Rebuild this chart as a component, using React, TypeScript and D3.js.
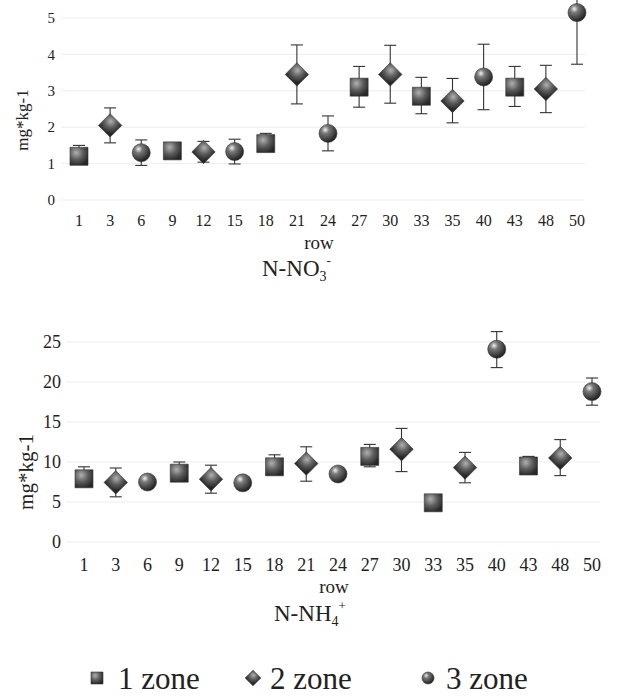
import { useRef, useEffect } from 'react';
import * as d3 from 'd3';

const rows = ['1', '3', '6', '9', '12', '15', '18', '21', '24', '27', '30', '33', '35', '40', '43', '48', '50'];
const zones = [1, 2, 3, 1, 2, 3, 1, 2, 3, 1, 2, 1, 2, 3, 1, 2, 3];

const no3Mean = [1.2, 2.05, 1.3, 1.35, 1.32, 1.33, 1.55, 3.45, 1.83, 3.1, 3.45, 2.85, 2.72, 3.38, 3.1, 3.05, 5.15];
const no3Up = [0.3, 0.48, 0.35, 0.22, 0.29, 0.34, 0.28, 0.81, 0.48, 0.57, 0.8, 0.52, 0.62, 0.9, 0.57, 0.65, 1.42];
const no3Down = [0.1, 0.48, 0.35, 0.1, 0.28, 0.34, 0.1, 0.81, 0.48, 0.55, 0.79, 0.48, 0.6, 0.9, 0.53, 0.65, 1.42];
const no3Ticks = [0, 1, 2, 3, 4, 5];

const nh4Mean = [7.9, 7.45, 7.5, 8.6, 7.85, 7.4, 9.4, 9.8, 8.5, 10.7, 11.6, 4.9, 9.3, 24.1, 9.5, 10.5, 18.8];
const nh4Up = [1.5, 1.8, 0.3, 1.4, 1.75, 0.3, 1.5, 2.1, 0.8, 1.5, 2.6, 0.3, 1.9, 2.2, 1.2, 2.3, 1.7];
const nh4Down = [0.3, 1.8, 0.3, 0.3, 1.75, 0.3, 0.3, 2.2, 0.3, 1.3, 2.8, 0.3, 1.9, 2.3, 0.3, 2.2, 1.7];
const nh4Ticks = [0, 5, 10, 15, 20, 25];

const legendLabels = ['1 zone', '2 zone', '3 zone'];

const FONT = '"Liberation Serif", "DejaVu Serif", serif';
const INK = '#222';

// one marker for a zone, centred on (0,0)
function marker(g, zone, s) {
  if (zone === 1) {
    g.append('path')
      .attr('d', d3.symbol(d3.symbolSquare, s * s)())
      .attr('fill', 'url(#shade)')
      .attr('stroke', '#333')
      .attr('stroke-width', 0.6);
  } else if (zone === 2) {
    const side = (s * 1.3) / Math.SQRT2;
    g.append('path')
      .attr('d', d3.symbol(d3.symbolSquare, side * side)())
      .attr('transform', 'rotate(45)')
      .attr('fill', 'url(#shade)')
      .attr('stroke', '#333')
      .attr('stroke-width', 0.6);
  } else {
    g.append('path')
      .attr('d', d3.symbol(d3.symbolCircle, Math.PI * (s / 2) * (s / 2))())
      .attr('fill', 'url(#shadeC)')
      .attr('stroke', '#333')
      .attr('stroke-width', 0.6);
  }
}

function drawPanel(svg, p) {
  const x = d3.scalePoint().domain(rows).range(p.xRange);
  const y = d3.scaleLinear().domain(p.yDomain).range(p.yRange);
  const g = svg.append('g');

  // faint gridlines
  g.append('g')
    .selectAll('line')
    .data(p.ticks)
    .enter()
    .append('line')
    .attr('x1', p.xRange[0] - 18)
    .attr('x2', p.xRange[1] + 8)
    .attr('y1', (d) => y(d))
    .attr('y2', (d) => y(d))
    .attr('stroke', '#ededed')
    .attr('stroke-width', 1);

  g.append('g')
    .selectAll('text')
    .data(p.ticks)
    .enter()
    .append('text')
    .attr('x', p.yTickX)
    .attr('y', (d) => y(d))
    .attr('dy', '0.35em')
    .attr('text-anchor', 'end')
    .attr('font-size', p.yTickSize)
    .attr('fill', INK)
    .text((d) => d);

  g.append('g')
    .selectAll('text')
    .data(rows)
    .enter()
    .append('text')
    .attr('x', (d) => x(d))
    .attr('y', p.xTickY)
    .attr('text-anchor', 'middle')
    .attr('font-size', p.xTickSize)
    .attr('fill', INK)
    .text((d) => d);

  // error bars
  const cap = 6;
  const bars = g.append('g').attr('stroke', '#333').attr('stroke-width', 1.1);
  rows.forEach((r, i) => {
    const cx = x(r);
    const hi = y(p.mean[i] + p.up[i]);
    const lo = y(p.mean[i] - p.down[i]);
    bars.append('line').attr('x1', cx).attr('x2', cx).attr('y1', hi).attr('y2', lo);
    bars.append('line').attr('x1', cx - cap).attr('x2', cx + cap).attr('y1', hi).attr('y2', hi);
    bars.append('line').attr('x1', cx - cap).attr('x2', cx + cap).attr('y1', lo).attr('y2', lo);
  });

  rows.forEach((r, i) => {
    const m = g.append('g').attr('transform', `translate(${x(r)},${y(p.mean[i])})`);
    marker(m, zones[i], 18);
  });

  g.append('text')
    .attr('transform', `translate(${p.yLabelX},${p.yLabelY}) rotate(-90)`)
    .attr('text-anchor', 'middle')
    .attr('font-size', p.yLabelSize)
    .attr('fill', INK)
    .text('mg*kg-1');

  g.append('text')
    .attr('x', p.rowX)
    .attr('y', p.rowY)
    .attr('text-anchor', 'middle')
    .attr('font-size', 19)
    .attr('fill', INK)
    .text('row');

  const t = g.append('text')
    .attr('x', p.titleX)
    .attr('y', p.titleY)
    .attr('font-size', 23)
    .attr('fill', INK);
  t.append('tspan').text(p.title);
  t.append('tspan').attr('font-size', 14).attr('dy', 5).text(p.sub);
  t.append('tspan').attr('font-size', 13).attr('dy', -16).text(p.sup);
}

function App() {
  const svgRef = useRef(null);

  useEffect(() => {
    const svg = d3.select(svgRef.current);
    svg.selectAll('*').remove();
    svg.attr('font-family', FONT);

    const defs = svg.append('defs');
    const sq = defs.append('radialGradient').attr('id', 'shade').attr('cx', '35%').attr('cy', '30%').attr('r', '75%');
    sq.append('stop').attr('offset', '0%').attr('stop-color', '#b0b0b0');
    sq.append('stop').attr('offset', '50%').attr('stop-color', '#5e5e5e');
    sq.append('stop').attr('offset', '100%').attr('stop-color', '#262626');
    const ci = defs.append('radialGradient').attr('id', 'shadeC').attr('cx', '35%').attr('cy', '30%').attr('r', '70%');
    ci.append('stop').attr('offset', '0%').attr('stop-color', '#f2f2f2');
    ci.append('stop').attr('offset', '30%').attr('stop-color', '#7a7a7a');
    ci.append('stop').attr('offset', '100%').attr('stop-color', '#222');

    drawPanel(svg, {
      mean: no3Mean,
      up: no3Up,
      down: no3Down,
      ticks: no3Ticks,
      xRange: [79, 577],
      yDomain: [0, 5],
      yRange: [200, 18],
      yTickX: 55,
      yTickSize: 15,
      xTickY: 226,
      xTickSize: 16,
      yLabelX: 28,
      yLabelY: 120,
      yLabelSize: 17,
      rowX: 319,
      rowY: 249,
      titleX: 262,
      titleY: 276,
      title: 'N-NO',
      sub: '3',
      sup: '-',
    });

    drawPanel(svg, {
      mean: nh4Mean,
      up: nh4Up,
      down: nh4Down,
      ticks: nh4Ticks,
      xRange: [84, 592],
      yDomain: [0, 25],
      yRange: [542, 342],
      yTickX: 61,
      yTickSize: 18,
      xTickY: 571,
      xTickSize: 18,
      yLabelX: 33,
      yLabelY: 472,
      yLabelSize: 21,
      rowX: 334,
      rowY: 593,
      titleX: 274,
      titleY: 621,
      title: 'N-NH',
      sub: '4',
      sup: '+',
    });

    // legend
    const iconX = [97, 253, 428];
    const textX = [118, 270, 446];
    const leg = svg.append('g');
    legendLabels.forEach((label, i) => {
      const m = leg.append('g').attr('transform', `translate(${iconX[i]},${678})`);
      marker(m, i + 1, 12);
      leg.append('text')
        .attr('x', textX[i])
        .attr('y', 689)
        .attr('font-size', 31)
        .attr('fill', INK)
        .text(label);
    });

    return () => {
      svg.selectAll('*').remove();
    };
  }, []);

  return (
    <svg
      ref={svgRef}
      width={620}
      height={698}
      style={{ position: 'absolute', left: 0, top: 0, background: '#fff' }}
    />
  );
}

export default App;
